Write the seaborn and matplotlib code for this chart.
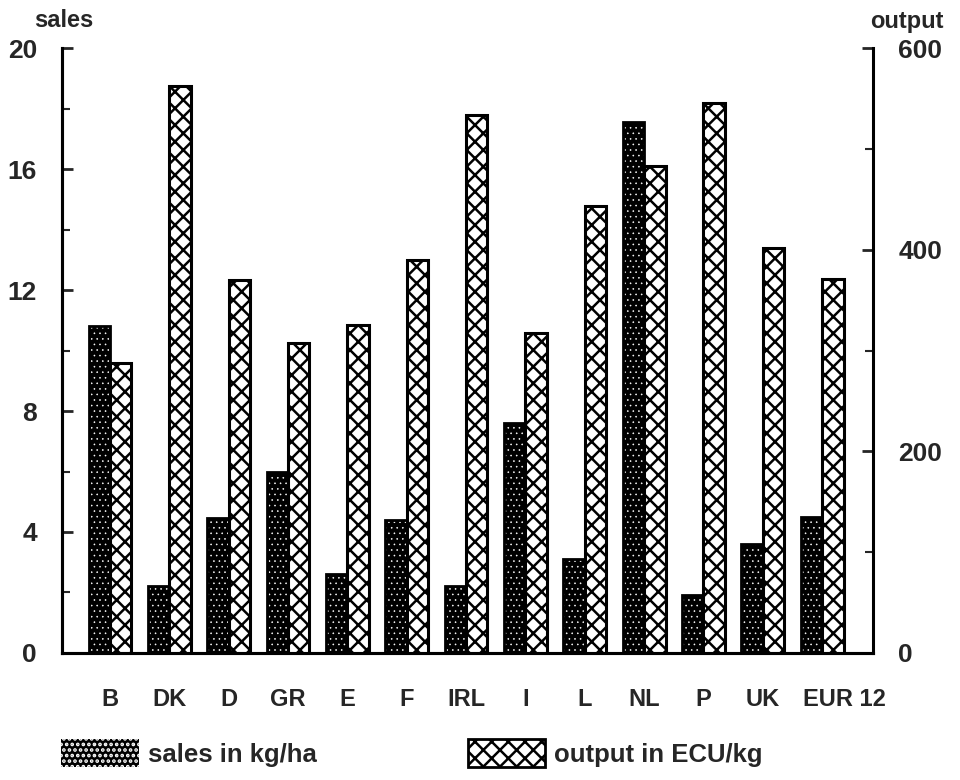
import numpy as np
import pandas as pd
import matplotlib
matplotlib.use("Agg")
import matplotlib.pyplot as plt
import matplotlib.transforms as mtransforms
import seaborn as sns
from matplotlib.patches import Rectangle, Patch
from matplotlib.ticker import MultipleLocator

# values
countries = ["B", "DK", "D", "GR", "E", "F", "IRL", "I", "L", "NL", "P", "UK", "EUR 12"]
sales = [10.8, 2.2, 4.45, 6.0, 2.6, 4.4, 2.2, 7.6, 3.1, 17.55, 1.9, 3.6, 4.5]
output = [288, 563, 370, 308, 325, 390, 534, 317, 444, 483, 546, 402, 371]
series = ["sales in kg/ha", "output in ECU/kg"]

sns.set_theme(style="white")
plt.rcParams["font.family"] = ["Liberation Sans", "DejaVu Sans"]
plt.rcParams["hatch.linewidth"] = 1.8

df_s = pd.DataFrame({"country": countries, "value": sales, "series": series[0]})
df_o = pd.DataFrame({"country": countries, "value": output, "series": series[1]})

fig = plt.figure(figsize=(9.6, 7.8), dpi=100)
ax = fig.add_axes([0.0646, 0.163, 0.845, 0.775])
ax2 = ax.twinx()

sns.barplot(data=df_s, x="country", y="value", hue="series", hue_order=series,
            order=countries, width=0.72, dodge=True, ax=ax, legend=False, saturation=1)
sns.barplot(data=df_o, x="country", y="value", hue="series", hue_order=series,
            order=countries, width=0.72, dodge=True, ax=ax2, legend=False, saturation=1)

# dark dotted bars
for p in list(ax.patches):
    p.set_facecolor("black")
    p.set_edgecolor("white")
    p.set_hatch("...")
    p.set_linewidth(0)
    if hasattr(p, "set_hatch_linewidth"):
        p.set_hatch_linewidth(0.4)
    ax.add_patch(Rectangle(p.get_xy(), p.get_width(), p.get_height(),
                           fill=False, edgecolor="black", linewidth=2))

# cross-hatched bars
for p in ax2.patches:
    p.set_facecolor("white")
    p.set_edgecolor("black")
    p.set_hatch("xx")
    p.set_linewidth(2.2)

ax.set_xlim(-0.81, 12.86)
ax.set_ylim(0, 20)
ax2.set_ylim(0, 600)
for a in (ax, ax2):
    a.set_xlabel("")
    a.set_ylabel("")

ax.yaxis.set_major_locator(MultipleLocator(4))
ax.yaxis.set_minor_locator(MultipleLocator(2))
ax2.yaxis.set_major_locator(MultipleLocator(200))
ax2.yaxis.set_minor_locator(MultipleLocator(100))

ax.tick_params(axis="y", which="major", direction="in", length=8, width=2,
               labelsize=19, pad=18, left=True)
ax.tick_params(axis="y", which="minor", direction="in", length=6, width=1.5, left=True)
ax2.tick_params(axis="y", which="major", direction="in", length=8, width=2,
                labelsize=19, pad=18, right=True)
ax2.tick_params(axis="y", which="minor", direction="in", length=6, width=1.5, right=True)
ax.tick_params(axis="x", length=0, labelsize=17, pad=25)
for lab in ax.get_xticklabels() + ax.get_yticklabels() + ax2.get_yticklabels():
    lab.set_fontweight("bold")

# the last category label sits a bit to the right in the original
last = ax.get_xticklabels()[-1]
last.set_transform(last.get_transform() +
                   mtransforms.ScaledTranslation(0.22, 0, fig.dpi_scale_trans))

for a in (ax, ax2):
    a.spines["top"].set_visible(False)
    for s in ("left", "right", "bottom"):
        a.spines[s].set_linewidth(2.2)
        a.spines[s].set_color("black")
ax.spines["right"].set_visible(False)

fig.text(0.036, 0.974, "sales", fontsize=17, fontweight="bold", va="center", ha="left")
fig.text(0.906, 0.972, "output", fontsize=17, fontweight="bold", va="center", ha="left")

h1 = Patch(facecolor="black", edgecolor="white", hatch="...", linewidth=0)
if hasattr(h1, "set_hatch_linewidth"):
    h1.set_hatch_linewidth(0.4)
h2 = Patch(facecolor="white", edgecolor="black", hatch="xx", linewidth=2)
leg_kw = dict(frameon=False, handlelength=3.0, handleheight=1.3, handletextpad=0.35,
              borderpad=0, borderaxespad=0, prop={"size": 18.5, "weight": "bold"})
fig.legend(handles=[h1], labels=[series[0]], loc="center left",
           bbox_to_anchor=(0.064, 0.034), **leg_kw)
fig.legend(handles=[h2], labels=[series[1]], loc="center left",
           bbox_to_anchor=(0.487, 0.034), **leg_kw)

fig.savefig("out.png", dpi=100)
